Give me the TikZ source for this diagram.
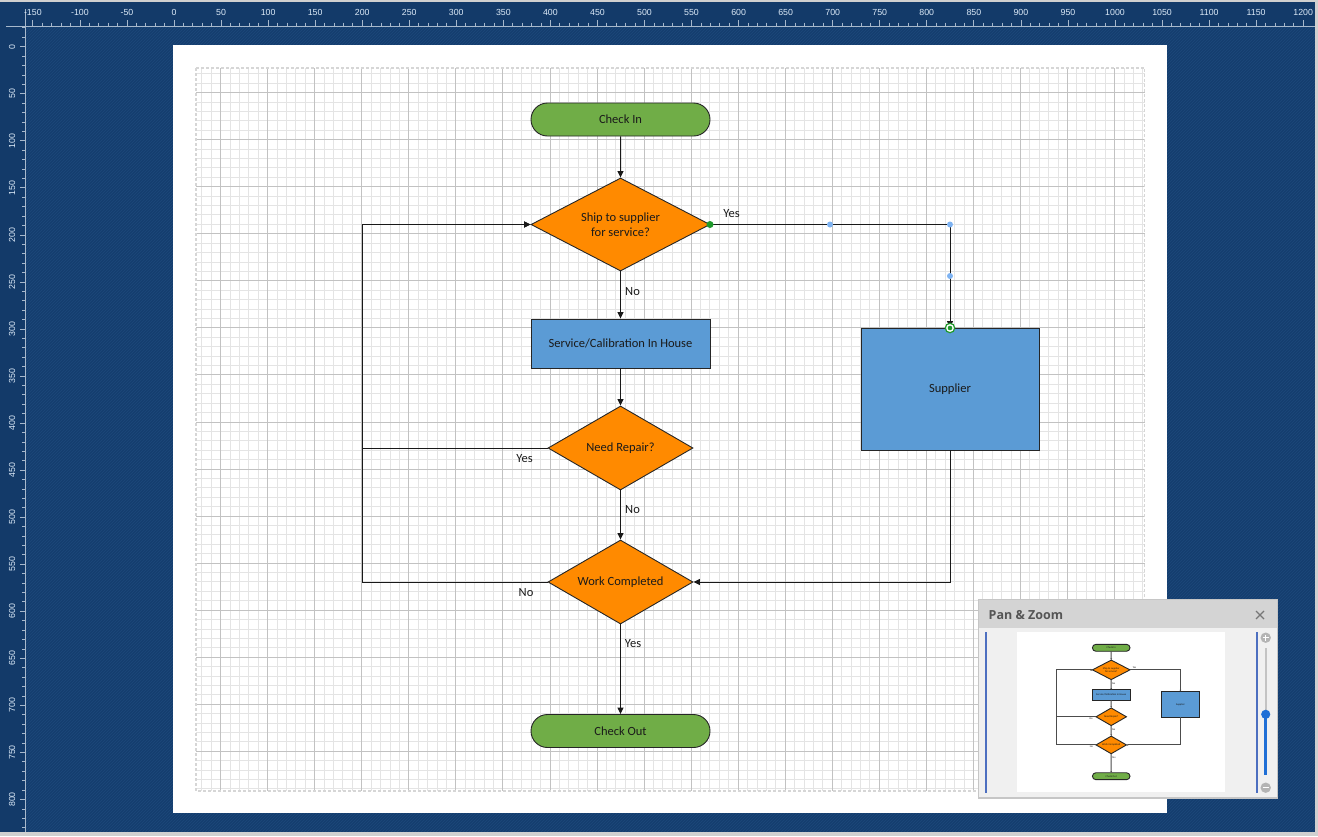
\documentclass[tikz,border=0pt]{standalone}
\usepackage{fontspec}
\setmainfont{Carlito}
\newfontfamily\rulerfont{Liberation Sans}
\newfontfamily\uifont{Open Sans}
\usetikzlibrary{shapes.geometric,shapes.misc,arrows.meta,patterns}
\definecolor{navy}{HTML}{153E6F}
\definecolor{navystripe}{HTML}{1D487B}
\definecolor{rulerbg}{HTML}{133A69}
\definecolor{rulerline}{HTML}{A7B8CC}
\definecolor{rulertext}{HTML}{DCEAF8}
\definecolor{edgegray}{HTML}{D0D0D0}
\definecolor{fgreen}{HTML}{70AD47}
\definecolor{forange}{HTML}{FF8A00}
\definecolor{fblue}{HTML}{5B9BD5}
\definecolor{gridminor}{HTML}{E4E4E4}
\definecolor{gridmajor}{HTML}{C2C2C2}
\definecolor{gridedge}{HTML}{D6D6D6}
\definecolor{outline}{HTML}{262626}
\definecolor{txt}{HTML}{1A1A1A}
\definecolor{handlegreen}{HTML}{1F9A2C}
\definecolor{handleblue}{HTML}{7EB3F2}
\definecolor{panelbg}{HTML}{F0F0F0}
\definecolor{panelhead}{HTML}{D4D4D4}
\definecolor{panelborder}{HTML}{C6C6C6}
\definecolor{paneltitle}{HTML}{555555}
\definecolor{panelblue}{HTML}{4D6FC0}
\definecolor{sliderblue}{HTML}{1F6FD6}
\definecolor{slidergray}{HTML}{B4B4B4}
\tikzset{
  shapetext/.style={text=txt, font=\fontsize{12.5}{15}\selectfont, align=center, inner sep=0pt, draw=outline, line width=0.9pt},
  term/.style={shapetext, rounded rectangle, fill=fgreen, minimum width=179, minimum height=33},
  dec/.style={shapetext, diamond, aspect=2, fill=forange},
  proc/.style={shapetext, rectangle, fill=fblue},
  lbl/.style={text=txt, font=\fontsize{12.5}{15}\selectfont, inner sep=0pt},
  conn/.style={draw=black!90, line width=1pt, -{Triangle[length=6.5pt,width=6pt]}},
  rulerlbl/.style={text=rulertext, font=\rulerfont\fontsize{8.8}{9}\selectfont, inner sep=0pt},
  tick/.style={draw=rulerline, line width=0.8pt},
}
\newcommand\drawflow[1]{%
  \node[term] (#1ci) at (620.5,119.5) {Check In};
  \node[dec, minimum width=179, minimum height=93] (#1d1) at (620.5,224.5) {Ship to supplier\\for service?};
  \node[proc, minimum width=179, minimum height=49] (#1svc) at (620.5,343.5) {Service/Calibration In House};
  \node[dec, minimum width=145, minimum height=84] (#1d2) at (620.5,448) {Need Repair?};
  \node[dec, minimum width=145, minimum height=84] (#1d3) at (620.5,582) {Work Completed};
  \node[term] (#1co) at (620.5,731) {Check Out};
  \node[proc, minimum width=178, minimum height=122] (#1sup) at (950,389) {Supplier};
  \coordinate (#1loop) at (362,224.5);
  \draw[conn] (#1ci) -- (#1d1);
  \draw[conn] (#1d1.east) -| (#1sup.north);
  \draw[conn] (#1d1) -- (#1svc);
  \draw[conn] (#1svc) -- (#1d2);
  \draw[conn] (#1d2.west) -| (#1loop) -- (#1d1.west);
  \draw[conn] (#1d2) -- (#1d3);
  \draw[conn] (#1d3.west) -| (#1loop) -- (#1d1.west);
  \draw[conn] (#1sup.south) |- (#1d3.east);
  \draw[conn] (#1d3) -- (#1co);
  \node[lbl] (#1ya) at (731.5,214) {Yes};
  \node[lbl] (#1na) at (632.5,291.5) {No};
  \node[lbl] (#1yb) at (524.5,458.5) {Yes};
  \node[lbl] (#1nb) at (632.5,509.5) {No};
  \node[lbl] (#1nc) at (526,592.5) {No};
  \node[lbl] (#1yc) at (633,643.5) {Yes};
}
\begin{document}
\begin{tikzpicture}[x=1pt,y=-1pt]
\useasboundingbox (0,0) rectangle (1318,836);
% workspace background
\fill[navy] (0,0) rectangle (1318,836);
\fill[pattern=north east lines, pattern color=navystripe] (25,26) rectangle (1315,832);
% window edges
\fill[edgegray] (0,0) rectangle (1318,2);
\fill[edgegray] (1315,0) rectangle (1318,836);
\fill[edgegray] (0,832) rectangle (1318,836);
% rulers
\fill[rulerbg] (0,2) rectangle (1315,26);
\fill[rulerbg] (0,2) rectangle (25,832);
\draw[tick] (6,26) -- (1315,26);
\draw[tick] (25,9) -- (25,832);
\foreach \u in {-140,-130,...,1200} {
  \pgfmathsetmacro\tx{174+0.941*\u}
  \draw[tick] (\tx,22.5) -- (\tx,26);
}
\foreach \u in {-150,-100,...,1200} {
  \pgfmathsetmacro\tx{174+0.941*\u}
  \draw[tick] (\tx,20) -- (\tx,26);
  \node[rulerlbl] (rt\u) at (\tx,12) {\u};
}
\foreach \v in {-20,-10,...,830} {
  \pgfmathsetmacro\ty{46.7+0.941*\v}
  \draw[tick] (22,\ty) -- (25,\ty);
}
\foreach \v in {0,50,...,800} {
  \pgfmathsetmacro\ty{46.7+0.941*\v}
  \draw[tick] (20,\ty) -- (25,\ty);
  \node[rulerlbl, rotate=90] (rl\v) at (12,\ty) {\v};
}
% page
\fill[white] (173,45) rectangle (1167.3,812.5);
\begin{scope}[shift={(173.5,45.5)}, x=0.941pt, y=-0.941pt]
  \foreach \u in {30,40,...,1030} { \draw[gridminor, line width=0.8pt] (\u,24) -- (\u,792); }
  \foreach \v in {30,40,...,790} { \draw[gridminor, line width=0.8pt] (24,\v) -- (1032,\v); }
  \foreach \u in {50,100,...,1000} { \draw[gridmajor, line width=0.8pt] (\u,24) -- (\u,792); }
  \foreach \v in {50,100,...,750} { \draw[gridmajor, line width=0.8pt] (24,\v) -- (1032,\v); }
  \draw[gridedge, line width=1.6pt, dash pattern=on 2.5pt off 2.5pt] (24,24) rectangle (1032,792);
\end{scope}
% flowchart
\drawflow{m}
% selection handles of the selected connector
\fill[handlegreen] (710,224.5) circle[radius=3.5];
\fill[handleblue] (830,224.5) circle[radius=3];
\fill[handleblue] (950,224.5) circle[radius=3];
\fill[handleblue] (950,276) circle[radius=3];
\draw[handlegreen, fill=white, line width=1.2pt] (950,328) circle[radius=4.7];
\fill[handlegreen] (950,328) circle[radius=2.3];
% Pan & Zoom panel
\fill[panelbg, draw=panelborder, line width=1.6pt] (978.5,599.5) rectangle (1277.5,798);
\fill[panelhead] (979.3,600.3) rectangle (1276.7,628.3);
\node[anchor=west, text=paneltitle, font=\uifont\bfseries\fontsize{12.5}{15}\selectfont, inner sep=0pt] (pztitle) at (988.5,615) {Pan \& Zoom};
\draw[paneltitle!80, line width=1.3pt] (1256,611) -- (1264,619);
\draw[paneltitle!80, line width=1.3pt] (1256,619) -- (1264,611);
\fill[panelblue] (985,632) rectangle (987.3,792.5);
\fill[panelblue] (1255.6,632) rectangle (1257.9,792.5);
\fill[white] (1017,632.3) rectangle (1225,792.3);
\begin{scope}[shift={(980.9,622.7)}, scale=0.21, transform shape,
  conn/.style={draw=black!70, line width=1pt, -{Triangle[length=1.6pt,width=1.6pt]}}]
  \drawflow{t}
\end{scope}
% zoom slider
\fill[slidergray] (1265.7,637.7) circle[radius=5.2];
\draw[white, line width=1.2pt] (1262.7,637.7) -- (1268.7,637.7) (1265.7,634.7) -- (1265.7,640.7);
\fill[slidergray!80] (1264.5,648) rectangle (1267,714);
\fill[sliderblue] (1264.3,714) rectangle (1267.1,775);
\fill[sliderblue] (1265.7,714.3) circle[radius=4.6];
\fill[slidergray] (1265.7,787.7) circle[radius=5.2];
\draw[white, line width=1.2pt] (1262.7,787.7) -- (1268.7,787.7);
\end{tikzpicture}
\end{document}
